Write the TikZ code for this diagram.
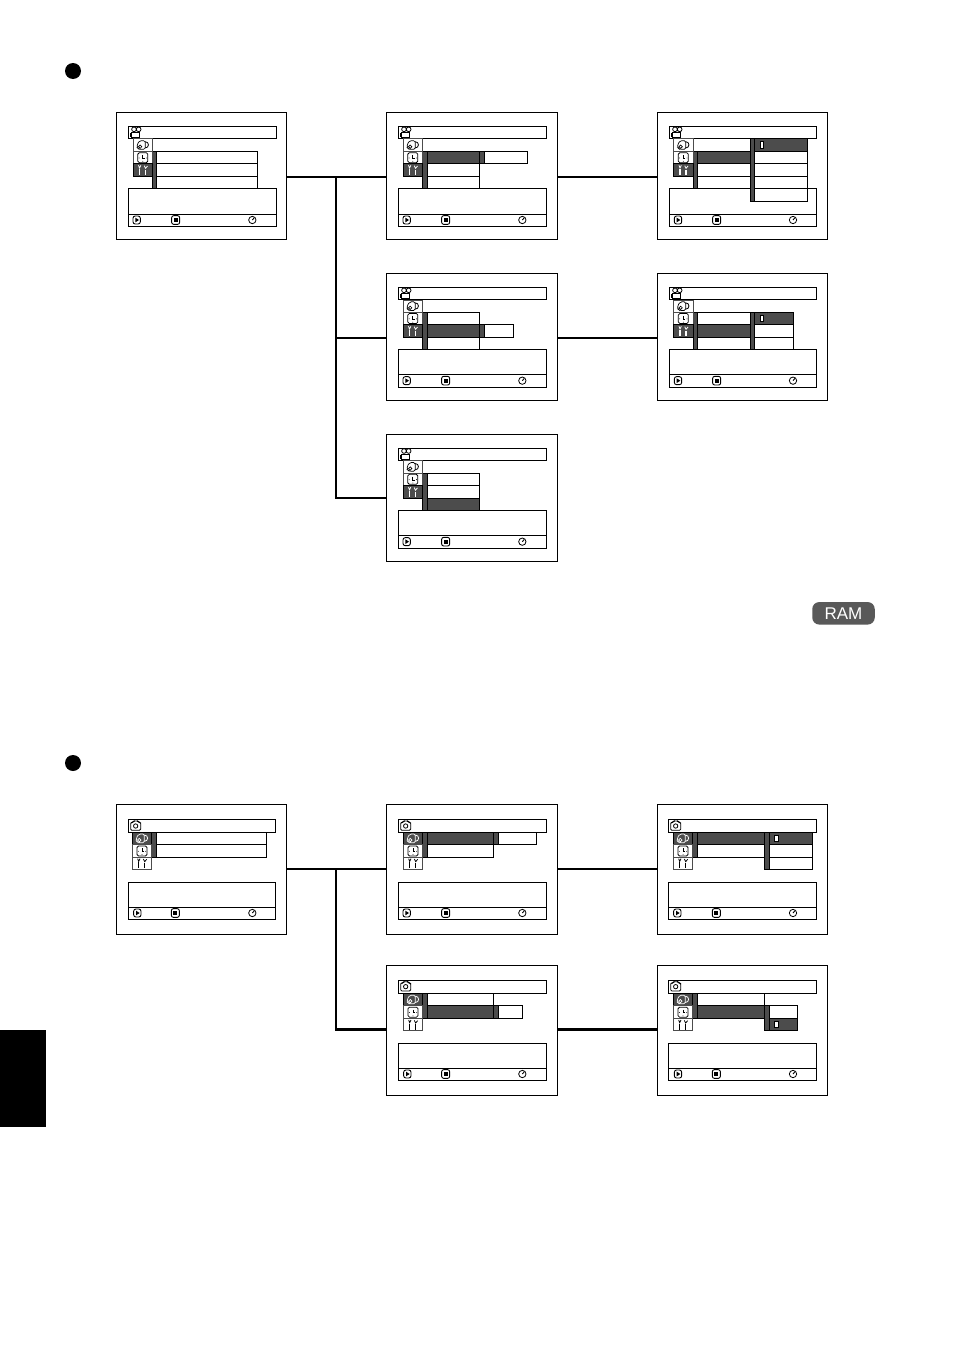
\documentclass[tikz,border=0pt]{standalone}
\usepackage{fontspec}
\setmainfont{Liberation Sans}
\definecolor{dk}{gray}{0.3}
\tikzset{
  scrbox/.style={draw=black,line width=0.9pt,fill=white,inner sep=0pt,outer sep=0pt,rectangle},
  conn/.style={draw=black,line width=2.4pt,line join=miter},
  ln/.style={draw=black,line width=0.8pt},
  rowbox/.style={draw=black,line width=0.8pt,fill=white},
  drkbox/.style={draw=black,line width=0.7pt,fill=dk},
}
% zoom coordinate scope: 3 units per pixel
\newenvironment{zoomed}[2]{\begin{scope}[shift={(#1pt,-#2pt)},x=0.33333pt,y=-0.33333pt]}{\end{scope}}
% panels: xleft xright titletop titlebottom lowertop divider lowerbottom
\newcommand{\sPanel}[7]{%
  \draw[rowbox] (#1,#3) rectangle (#2,#4);
  \draw[rowbox] (#1,#5) rectangle (#2,#7);
  \draw[ln] (#1,#6) -- (#2,#6);}
\newcommand{\sRow}[4]{\draw[rowbox] (#1,#2) rectangle (#3,#4);}
\newcommand{\sDark}[4]{\draw[drkbox] (#1,#2) rectangle (#3,#4);}
\newcommand{\sMark}[2]{\draw[draw=black,fill=white,line width=0.5pt] (#1,#2) rectangle ++(10,19);}
% title icons
\newcommand{\sMovie}[2]{\begin{scope}[shift={(#1,#2)}]
  \draw[line width=0.8pt] (17,9) circle (7) (31,9) circle (7);
  \draw[line width=0.9pt] (9,18) rectangle (34,33);
  \draw[line width=0.9pt] (7,20) -- (7,32);
 \end{scope}}
\newcommand{\sPhoto}[2]{\begin{scope}[shift={(#1,#2)}]
  \draw[line width=0.8pt,rounded corners=1.2pt] (7,9) -- (14,9) -- (16,5) -- (29,5) -- (31,9) -- (37,9) -- (37,33) -- (7,33) -- cycle;
  \draw[line width=0.8pt] (22,20) circle (6.5);
 \end{scope}}
% menu icons
\newcommand{\sDisc}[1]{%
  \draw[#1,line width=0.7pt,rounded corners=1.5pt] (-17,-2) -- (-9,-13) -- (7,-13) -- (7,13) -- (-11,13) -- (-17,8) -- cycle;
  \draw[#1,line width=0.7pt] (-8,5) circle (5);
  \draw[#1,line width=0.8pt] (7,-10) .. controls (20,-10) and (20,9) .. (7,9);}
\newcommand{\sClock}[1]{%
  \draw[#1,line width=0.8pt,rounded corners=1.5pt] (-15,-15) rectangle (15,15);
  \draw[#1,line width=0.8pt] (0,-8) -- (0,2) -- (6,2);
  \fill[#1] (-11,1) circle (1.3) (0,11) circle (1.3) (11,1) circle (1.3);}
\newcommand{\sTools}[1]{%
  \draw[#1,line width=1.3pt] (-10,-3) -- (-10,15) (8,-1) -- (8,15);
  \draw[#1,line width=0.8pt] (-13,-14) -- (-10,-6) -- (-6,-14) (4,-13) -- (8,-5) -- (14,-12);}
% icon column cell: type x1 y1 x2 y2 dark(1/0)
\newcommand{\sIco}[6]{%
  \pgfmathsetmacro{\sCx}{(#2+#4)/2}\pgfmathsetmacro{\sCy}{(#3+#5)/2}%
  \ifnum#6=1
    \draw[draw=black,line width=0.7pt,fill=dk] (#2,#3) rectangle (#4,#5);
    \begin{scope}[shift={(\sCx,\sCy)}]#1{white}\end{scope}
  \else
    \draw[draw=black!70,line width=0.8pt,fill=white] (#2,#3) rectangle (#4,#5);
    \begin{scope}[shift={(\sCx,\sCy)}]#1{black}\end{scope}
  \fi}
% column of three icons: x1 x2 y0 y1 y2 y3 darkindex
\newcommand{\sIcons}[7]{%
  \ifnum#7=1 \sIco{\sDisc}{#1}{#3}{#2}{#4}{1}\else\sIco{\sDisc}{#1}{#3}{#2}{#4}{0}\fi
  \ifnum#7=2 \sIco{\sClock}{#1}{#4}{#2}{#5}{1}\else\sIco{\sClock}{#1}{#4}{#2}{#5}{0}\fi
  \ifnum#7=3 \sIco{\sTools}{#1}{#5}{#2}{#6}{1}\else\sIco{\sTools}{#1}{#5}{#2}{#6}{0}\fi}
% buttons: y xplay xstop xclock
\newcommand{\sBtns}[4]{%
  \draw[line width=0.9pt,rounded corners=2.2pt] (#2-11,#1-12) rectangle (#2+11,#1+12);
  \fill[black] (#2-4,#1-7) -- (#2+7,#1) -- (#2-4,#1+7) -- cycle;
  \draw[line width=0.9pt,rounded corners=2pt] (#3-12,#1-13) rectangle (#3+12,#1+13);
  \fill[black] (#3-6,#1-6) rectangle (#3+6,#1+6);
  \draw[line width=0.8pt] (#4,#1) circle (11);
  \draw[line width=0.9pt] (#4,#1) -- (#4+6,#1-7);}
\begin{document}
\begin{tikzpicture}[x=1pt,y=-1pt]
\useasboundingbox (0,0) rectangle (954,1352);
\fill[white] (0,0) rectangle (954,1352);
% page furniture
\fill[black] (0,1030) rectangle (46,1127);
\node[circle,fill=black,inner sep=0pt,minimum size=16pt] (d1) at (73,71) {};
\node[circle,fill=black,inner sep=0pt,minimum size=16pt] (d2) at (73,763) {};
\node[rectangle,rounded corners=7pt,fill=black!65,minimum width=62.5pt,minimum height=22.5pt,inner sep=0pt,text=white,font=\fontsize{17}{17}\selectfont] (ram) at (843.5,613.3) {RAM};
% frames
\node[scrbox,minimum width=170pt,minimum height=127pt] (s1) at (201.6,175.5) {};
\node[scrbox,minimum width=170.6pt,minimum height=127pt] (s2) at (472,175.5) {};
\node[scrbox,minimum width=170pt,minimum height=127pt] (s3) at (742.3,175.5) {};
\node[scrbox,minimum width=170.6pt,minimum height=127pt] (s4) at (472,337) {};
\node[scrbox,minimum width=170pt,minimum height=127pt] (s5) at (742.3,337) {};
\node[scrbox,minimum width=170.6pt,minimum height=127.3pt] (s6) at (472,497.7) {};
\node[scrbox,minimum width=170pt,minimum height=130.3pt] (s7) at (201.7,869.2) {};
\node[scrbox,minimum width=170.6pt,minimum height=130.3pt] (s8) at (472,869.2) {};
\node[scrbox,minimum width=170pt,minimum height=130.3pt] (s9) at (742.3,869.2) {};
\node[scrbox,minimum width=170.6pt,minimum height=130pt] (s10) at (472,1030.3) {};
\node[scrbox,minimum width=170pt,minimum height=130pt] (s11) at (742.3,1030.3) {};
% connectors
\coordinate (j1) at (336,177);
\coordinate (j2) at (336,338);
\coordinate (j3) at (336,498);
\coordinate (j4) at (336,869);
\coordinate (j5) at (336,1029.5);
\draw[conn] (s1.east |- j1) -- (s2.west |- j1);
\draw[conn] (j1) |- (s6.west |- j3);
\draw[conn] (j2) -- (s4.west |- j2);
\draw[conn] (s2.east |- j1) -- (s3.west |- j1);
\draw[conn] (s4.east |- j2) -- (s5.west |- j2);
\draw[conn] (s7.east |- j4) -- (s8.west |- j4);
\draw[conn] (j4) |- (s10.west |- j5);
\draw[conn] (s8.east |- j4) -- (s9.west |- j4);
\draw[conn] (s10.east |- j5) -- (s11.west |- j5);
% s1
\begin{zoomed}{110}{105}
\sPanel{55}{500}{64}{100}{250}{327}{365}
\sMovie{55}{64}
\sRow{127}{140}{443}{176}\sRow{127}{176}{443}{214}\sRow{127}{214}{443}{250}
\sDark{127}{140}{140}{250}
\sIcons{70}{127}{100}{140}{176}{214}{3}
\sBtns{345}{80}{197}{427}
\end{zoomed}
% s2
\begin{zoomed}{380}{105}
\sPanel{55}{500}{64}{100}{250}{327}{365}
\sMovie{55}{64}
\sRow{127}{176}{298}{214}\sRow{127}{214}{298}{250}
\sRow{298}{140}{443}{176}
\sDark{143}{140}{298}{176}
\sDark{127}{140}{143}{250}
\sDark{298}{140}{314}{176}
\sIcons{70}{127}{100}{140}{176}{214}{3}
\sBtns{345}{80}{197}{427}
\end{zoomed}
% s3
\begin{zoomed}{650}{105}
\sPanel{58}{500}{64}{100}{250}{327}{365}
\sMovie{58}{64}
\sRow{130}{100}{300}{140}\sRow{130}{176}{300}{214}\sRow{130}{214}{300}{250}
\sDark{143}{140}{300}{176}
\sDark{130}{140}{143}{250}
\sRow{300}{140}{472}{176}\sRow{300}{176}{472}{214}\sRow{300}{214}{472}{250}\sRow{300}{250}{472}{290}
\sDark{300}{100}{472}{140}
\sDark{300}{100}{314}{290}
\sMark{331}{110}
\sIcons{70}{130}{100}{140}{176}{214}{3}
\sBtns{345}{84}{200}{429}
\end{zoomed}
% s4
\begin{zoomed}{380}{268}
\sPanel{55}{500}{58}{94}{244}{320}{358}
\sMovie{55}{58}
\sRow{127}{133}{298}{170}\sRow{127}{208}{298}{244}
\sRow{298}{170}{400}{208}
\sDark{70}{170}{298}{208}
\sDark{127}{133}{143}{244}
\sDark{298}{170}{314}{208}
\sIcons{70}{127}{96}{133}{170}{208}{3}
\sBtns{338}{80}{197}{427}
\end{zoomed}
% s5
\begin{zoomed}{650}{268}
\sPanel{58}{500}{58}{94}{244}{320}{358}
\sMovie{58}{58}
\sRow{130}{133}{300}{170}\sRow{130}{208}{300}{244}
\sRow{300}{170}{430}{208}\sRow{300}{208}{430}{244}
\sDark{300}{133}{430}{170}
\sDark{70}{170}{300}{208}
\sDark{130}{133}{143}{244}
\sDark{300}{133}{314}{244}
\sMark{331}{142}
\sIcons{70}{130}{96}{133}{170}{208}{3}
\sBtns{338}{84}{200}{429}
\end{zoomed}
% s6
\begin{zoomed}{380}{428}
\sPanel{55}{500}{60}{97}{247}{322}{360}
\sMovie{55}{60}
\sRow{127}{136}{298}{172}\sRow{127}{172}{298}{211}
\sDark{143}{211}{298}{247}
\sDark{127}{136}{143}{247}
\sIcons{70}{127}{97}{136}{172}{211}{3}
\sBtns{341}{80}{197}{427}
\end{zoomed}
% s7
\begin{zoomed}{110}{798}
\sPanel{55}{497}{64}{102}{253}{327}{365}
\sPhoto{55}{64}
\sRow{125}{102}{470}{140}\sRow{125}{140}{470}{178}
\sDark{125}{102}{140}{178}
\sIcons{67}{125}{102}{140}{178}{214}{1}
\sBtns{345}{82}{196}{427}
\end{zoomed}
% s8
\begin{zoomed}{380}{798}
\sPanel{55}{500}{64}{102}{253}{327}{365}
\sPhoto{55}{64}
\sRow{128}{140}{340}{178}
\sRow{340}{102}{470}{140}
\sDark{143}{102}{340}{140}
\sDark{128}{102}{143}{178}
\sDark{340}{102}{356}{140}
\sIcons{70}{128}{102}{140}{178}{214}{1}
\sBtns{345}{80}{197}{427}
\end{zoomed}
% s9
\begin{zoomed}{650}{798}
\sPanel{55}{500}{64}{102}{253}{327}{365}
\sPhoto{55}{64}
\sRow{128}{140}{343}{178}
\sRow{343}{140}{488}{178}\sRow{343}{178}{488}{214}
\sDark{343}{102}{488}{140}
\sDark{143}{102}{343}{140}
\sDark{128}{102}{143}{178}
\sDark{343}{102}{358}{214}
\sMark{374}{112}
\sIcons{70}{128}{102}{140}{178}{214}{1}
\sBtns{345}{82}{199}{429}
\end{zoomed}
% s10
\begin{zoomed}{380}{960}
\sPanel{55}{500}{60}{100}{250}{325}{362}
\sPhoto{55}{60}
\sRow{128}{100}{340}{137}
\sRow{340}{137}{428}{176}
\sDark{143}{137}{340}{176}
\sDark{128}{100}{143}{176}
\sDark{340}{137}{356}{176}
\sIcons{70}{128}{100}{137}{176}{212}{1}
\sBtns{342}{82}{197}{427}
\end{zoomed}
% s11
\begin{zoomed}{650}{960}
\sPanel{55}{500}{60}{100}{250}{325}{362}
\sPhoto{55}{60}
\sRow{128}{100}{343}{137}
\sRow{343}{137}{443}{176}
\sDark{343}{176}{443}{212}
\sDark{143}{137}{343}{176}
\sDark{128}{100}{143}{176}
\sDark{343}{137}{358}{212}
\sMark{374}{184}
\sIcons{70}{128}{100}{137}{176}{212}{1}
\sBtns{342}{84}{199}{429}
\end{zoomed}
\end{tikzpicture}
\end{document}
